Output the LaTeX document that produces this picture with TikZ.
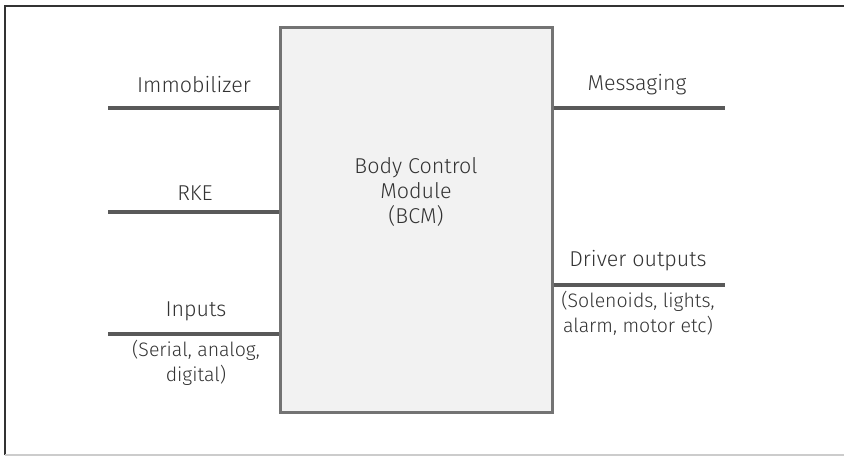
\documentclass[tikz,border=0pt]{standalone}
\usepackage{fontspec}
\setmainfont{Fira Sans Light}
\tikzset{
  lbl/.style={font=\fontsize{21.5}{25}\selectfont, text=black!80, inner sep=0pt, align=center},
  sublbl/.style={font=\fontsize{19.5}{25}\selectfont, text=black!80, inner sep=0pt, align=center},
  wire/.style={draw=black!65, line width=3.5pt},
  bcmbox/.style={draw=black!55, line width=3pt, fill=black!5, minimum width=272pt, minimum height=384pt, inner sep=0pt}
}
\begin{document}
\begin{tikzpicture}[x=1pt,y=1pt]
\useasboundingbox (0,0) rectangle (844,456);
% outer frame
\draw[black!80, line width=1.5pt] (5,1) -- (5,450) -- (844,450);
\draw[black!20, line width=1.5pt] (5,1) -- (844,1);
% module
\node[bcmbox] (bcm) at (416,236) {};
\node[lbl] (bcmt) at (416,264) {Body Control\\Module\\(BCM)};
% left wires
\coordinate (imm) at (108,348);
\coordinate (rke) at (108,244);
\coordinate (inp) at (108,122);
\draw[wire] (imm) -- (imm -| bcm.west);
\draw[wire] (rke) -- (rke -| bcm.west);
\draw[wire] (inp) -- (inp -| bcm.west);
% right wires
\coordinate (msg) at (725,348);
\coordinate (drv) at (725,171);
\draw[wire] (msg -| bcm.east) -- (msg);
\draw[wire] (drv -| bcm.east) -- (drv);
% labels
\node[lbl] (limm) at (194,371) {Immobilizer};
\node[lbl] (lrke) at (195,263) {RKE};
\node[lbl] (linp) at (196,145) {Inputs};
\node[sublbl] (sinp) at (196,93.5) {(Serial, analog,\\digital)};
\node[lbl] (lmsg) at (637,371) {Messaging};
\node[lbl] (ldrv) at (638,195) {Driver outputs};
\node[sublbl] (sdrv) at (638,142.5) {(Solenoids, lights,\\alarm, motor etc)};
\end{tikzpicture}
\end{document}
